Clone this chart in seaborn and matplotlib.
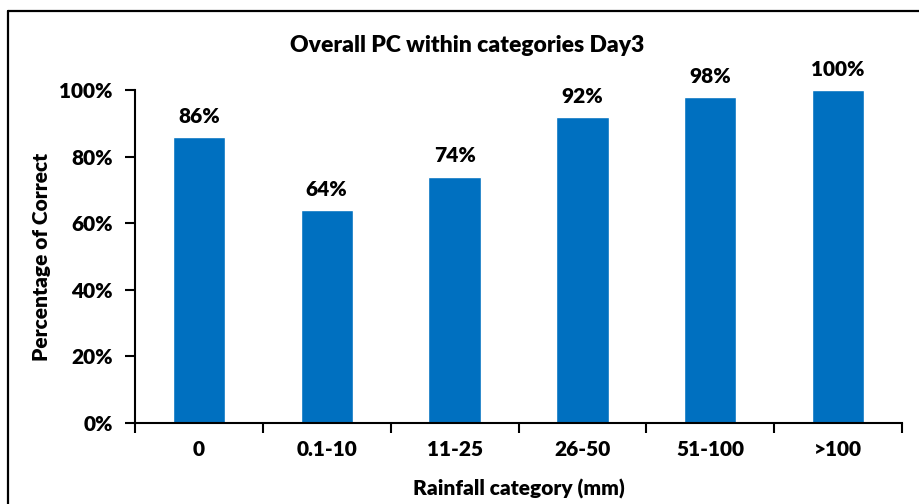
import matplotlib
matplotlib.use("Agg")
import matplotlib.pyplot as plt
from matplotlib.lines import Line2D
from matplotlib.ticker import FuncFormatter
import seaborn as sns
import pandas as pd

categories = ["0", "0.1-10", "11-25", "26-50", "51-100", ">100"]
pc_values = [86, 64, 74, 92, 98, 100]
y_ticks = [0, 20, 40, 60, 80, 100]

title = "Overall PC within categories Day3"
x_label = "Rainfall category (mm)"
y_label = "Percentage of Correct"

sns.set_theme(style="white")
plt.rcParams["font.family"] = ["Lato", "DejaVu Sans"]
plt.rcParams["font.weight"] = "bold"

WEIGHT = "heavy"
FS = 15

df = pd.DataFrame({"category": categories, "pc": pc_values})

fig = plt.figure(figsize=(9.19, 5.04), dpi=100)
ax = fig.add_axes([135 / 919, 1 - 423 / 504, (902 - 135) / 919, (423 - 90) / 504])

sns.barplot(data=df, x="category", y="pc", color="#0070C0", saturation=1,
            width=0.41, ax=ax)

ax.set_ylim(0, 100)
ax.set_xlim(-0.5, len(categories) - 0.5)
ax.set_yticks(y_ticks)
ax.yaxis.set_major_formatter(FuncFormatter(lambda v, _: f"{v:.0f}%"))

# category boundary ticks on the x axis
ax.set_xticks(range(len(categories)))
ax.set_xticklabels(categories)
ax.tick_params(axis="x", which="major", length=0, pad=12, labelsize=FS)
ax.set_xticks([i - 0.5 for i in range(len(categories) + 1)], minor=True)
ax.tick_params(axis="x", which="minor", length=7, width=1.5, color="black",
               direction="out", bottom=True)
ax.tick_params(axis="y", length=7, width=1.5, color="black", direction="out",
               left=True, labelsize=FS, pad=9)
for lab in ax.get_xticklabels() + ax.get_yticklabels():
    lab.set_fontweight(WEIGHT)
    lab.set_color("black")

for side in ["top", "right"]:
    ax.spines[side].set_visible(False)
for side in ["left", "bottom"]:
    ax.spines[side].set_color("black")
    ax.spines[side].set_linewidth(1.5)

for i, v in enumerate(pc_values):
    ax.annotate(f"{v}%", xy=(i, v), xytext=(0, 8), textcoords="offset points",
                ha="center", va="bottom", fontsize=FS, fontweight=WEIGHT,
                color="black")

ax.set_xlabel("")
ax.set_ylabel("")
fig.text(467 / 919, 1 - 45 / 504, title, ha="center", va="center",
         fontsize=16.5, fontweight=WEIGHT, color="black")
fig.text(519 / 919, 1 - 489 / 504, x_label, ha="center", va="center",
         fontsize=FS, fontweight=WEIGHT, color="black")
fig.text(42 / 919, 1 - 257 / 504, y_label, ha="center", va="center",
         rotation=90, fontsize=FS, fontweight=WEIGHT, color="black")

# chart frame (left and top edges)
fig.add_artist(Line2D([8 / 919, 8 / 919], [0, 1 - 11 / 504], transform=fig.transFigure,
                      color="black", linewidth=1.6))
fig.add_artist(Line2D([8 / 919, 1], [1 - 11 / 504, 1 - 11 / 504], transform=fig.transFigure,
                      color="black", linewidth=1.6))

fig.savefig("out.png", dpi=100)
